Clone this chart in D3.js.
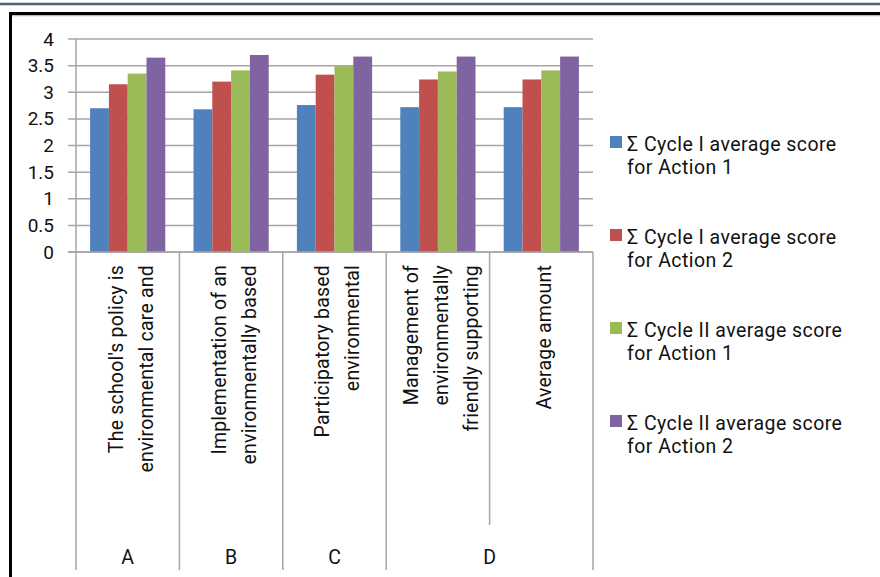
<!DOCTYPE html>
<html lang="en">
  <head>
    <meta charset="UTF-8" />
    <title>Cycle scores</title>
    <script src="https://cdn.jsdelivr.net/npm/d3@7"></script>
    <style>
      html,
      body {
        margin: 0;
        background: #fff;
        font-family: Roboto, sans-serif;
      }
      text {
        fill: #111;
      }
    </style>
  </head>
  <body>
    <div id="chart"></div>
    <script>
      // categories (wrapped labels on the first level, letters on the second)
      const categories = ["A1", "B1", "C1", "D1", "D2"];
      const categoryLines = [
        ["The school's policy is", "environmental care and"],
        ["Implementation of an", "environmentally based"],
        ["Participatory based", "environmental"],
        ["Management of", "environmentally", "friendly supporting"],
        ["Average amount"],
      ];
      const groupLabels = ["A", "B", "C", "D"];
      const groupSpans = [1, 1, 1, 2];

      const seriesNames = [
        ["Σ Cycle I average score", "for Action 1"],
        ["Σ Cycle I average score", "for Action 2"],
        ["Σ Cycle II average score", "for Action 1"],
        ["Σ Cycle II average score", "for Action 2"],
      ];
      const cycle1Action1 = [2.7, 2.68, 2.76, 2.72, 2.72];
      const cycle1Action2 = [3.15, 3.2, 3.33, 3.24, 3.24];
      const cycle2Action1 = [3.35, 3.41, 3.49, 3.39, 3.41];
      const cycle2Action2 = [3.65, 3.7, 3.67, 3.67, 3.67];
      const yTicks = [0, 0.5, 1, 1.5, 2, 2.5, 3, 3.5, 4];

      const colors = ["#4f81bd", "#c0504d", "#9bbb59", "#8064a2"];
      const series = [cycle1Action1, cycle1Action2, cycle2Action1, cycle2Action2];

      const W = 880,
        H = 577;
      const plot = { left: 76, top: 39, width: 517, height: 213 };
      const labelSize = 19.5;

      const svg = d3
        .select("#chart")
        .append("svg")
        .attr("width", W)
        .attr("height", H);

      // page frame
      svg.append("line")
        .attr("x1", 0).attr("x2", W).attr("y1", 4).attr("y2", 4)
        .attr("stroke", "#4e5f78").attr("stroke-width", 2.5);
      svg.append("line")
        .attr("x1", 9).attr("x2", W).attr("y1", 15.5).attr("y2", 15.5)
        .attr("stroke", "#bbb").attr("stroke-width", 1.5);
      svg.append("line")
        .attr("x1", 9).attr("x2", W).attr("y1", 13.5).attr("y2", 13.5)
        .attr("stroke", "#000").attr("stroke-width", 3);
      svg.append("line")
        .attr("x1", 10.5).attr("x2", 10.5).attr("y1", 12).attr("y2", H)
        .attr("stroke", "#000").attr("stroke-width", 3);

      const g = svg
        .append("g")
        .attr("transform", `translate(${plot.left},${plot.top})`);

      const x = d3
        .scaleBand()
        .domain(categories)
        .range([0, plot.width])
        .padding(0);
      const x1 = d3
        .scaleBand()
        .domain(d3.range(series.length))
        .range([0, x.bandwidth()])
        .paddingInner(0)
        .paddingOuter(0.75);
      const y = d3.scaleLinear().domain([0, 4]).range([plot.height, 0]);

      // gridlines
      g.append("g")
        .selectAll("line")
        .data(yTicks)
        .join("line")
        .attr("x1", -8)
        .attr("x2", plot.width)
        .attr("y1", (d) => y(d))
        .attr("y2", (d) => y(d))
        .attr("stroke", "#a6a6a6")
        .attr("stroke-width", 1.5);

      // y axis labels
      const yAxis = g
        .append("g")
        .call(d3.axisLeft(y).tickValues(yTicks).tickSize(8).tickPadding(14).tickFormat(d3.format("")));
      yAxis.select(".domain").remove();
      yAxis.selectAll("line").remove();
      yAxis
        .selectAll("text")
        .attr("font-family", "Roboto, sans-serif")
        .attr("font-size", 19)
        .attr("fill", "#111");

      // bars
      series.forEach((vals, s) => {
        g.append("g")
          .selectAll("rect")
          .data(vals)
          .join("rect")
          .attr("x", (d, i) => x(categories[i]) + x1(s))
          .attr("y", (d) => y(d))
          .attr("width", x1.bandwidth())
          .attr("height", (d) => y(0) - y(d))
          .attr("fill", colors[s]);
      });

      // y axis line
      g.append("line")
        .attr("x1", 0).attr("x2", 0)
        .attr("y1", 0).attr("y2", plot.height)
        .attr("stroke", "#a6a6a6").attr("stroke-width", 1.5);

      // category axis (two levels)
      const axisBottom = 531;
      const groupStarts = d3.cumsum([0].concat(groupSpans));
      const step = x.step();
      d3.range(categories.length + 1).forEach((i) => {
        const isGroupEdge = groupStarts.includes(i);
        g.append("line")
          .attr("x1", i * step).attr("x2", i * step)
          .attr("y1", plot.height)
          .attr("y2", isGroupEdge ? axisBottom : axisBottom - 45)
          .attr("stroke", "#a6a6a6").attr("stroke-width", 1.5);
      });
      g.append("line")
        .attr("x1", -8).attr("x2", plot.width)
        .attr("y1", plot.height).attr("y2", plot.height)
        .attr("stroke", "#a6a6a6").attr("stroke-width", 1.5);

      categories.forEach((c, i) => {
        const lines = categoryLines[i];
        const cx = x(c) + x.bandwidth() / 2 + 3;
        lines.forEach((t, j) => {
          const lx = cx + (j - (lines.length - 1) / 2) * 30;
          g.append("text")
            .attr("transform", `translate(${lx},${plot.height + 13}) rotate(-90)`)
            .attr("text-anchor", "end")
            .attr("dy", "0.35em")
            .attr("font-size", labelSize)
            .attr("letter-spacing", 0.2)
            .text(t);
        });
      });

      groupLabels.forEach((lab, k) => {
        const cx = ((groupStarts[k] + groupStarts[k + 1]) / 2) * step;
        g.append("text")
          .attr("x", cx)
          .attr("y", axisBottom - 6)
          .attr("text-anchor", "middle")
          .attr("font-size", labelSize)
          .text(lab);
      });

      // legend
      const legend = svg.append("g").attr("transform", "translate(610,136)");
      seriesNames.forEach((name, s) => {
        const row = legend.append("g").attr("transform", `translate(0,${s * 93})`);
        row.append("rect")
          .attr("width", 12).attr("height", 12)
          .attr("fill", colors[s]);
        row.selectAll("text")
          .data(name)
          .join("text")
          .attr("x", 17)
          .attr("y", (d, j) => 15 + j * 23)
          .attr("font-size", labelSize)
          .attr("letter-spacing", 0.45)
          .text((d) => d);
      });
    </script>
  </body>
</html>
